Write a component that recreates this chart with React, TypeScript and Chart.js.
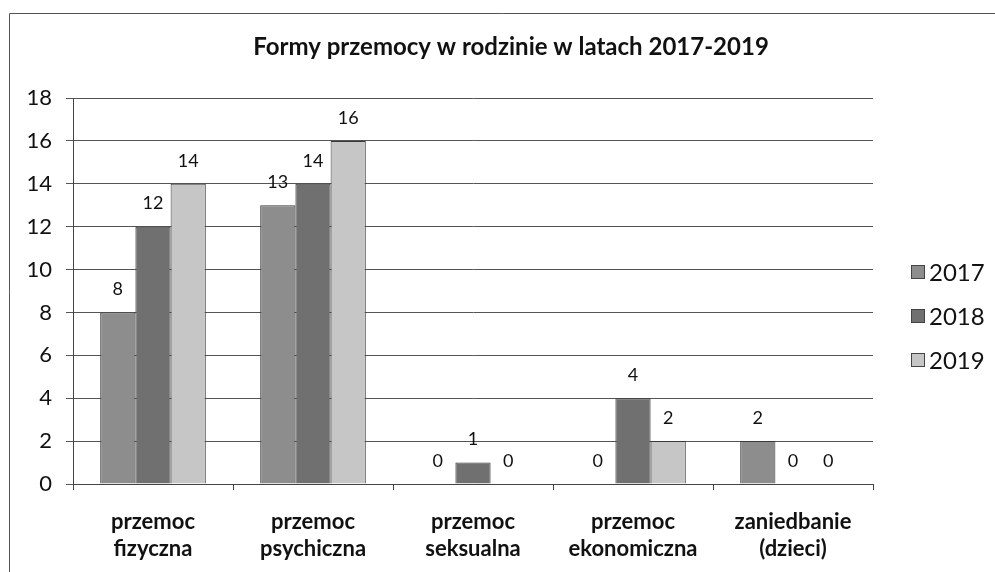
import React, { useEffect, useRef } from "react";
import { Chart, registerables } from "chart.js";

Chart.register(...registerables);

const titleText = "Formy przemocy w rodzinie w latach 2017-2019";
const categories: string[][] = [
  ["przemoc", "fizyczna"],
  ["przemoc", "psychiczna"],
  ["przemoc", "seksualna"],
  ["przemoc", "ekonomiczna"],
  ["zaniedbanie", "(dzieci)"],
];
const seriesNames = ["2017", "2018", "2019"];
const values2017 = [8, 13, 0, 0, 2];
const values2018 = [12, 14, 1, 4, 0];
const values2019 = [14, 16, 0, 2, 0];
const yTicksMin = 0;
const yTicksMax = 18;
const yTicksStep = 2;

const seriesColors = ["#8d8d8d", "#707070", "#c6c6c6"];
const FONT = "Lato, 'Open Sans', sans-serif";

const decorPlugin = {
  id: "decor",
  beforeDraw(chart: any) {
    const ctx = chart.ctx;
    ctx.save();
    ctx.fillStyle = "#ffffff";
    ctx.fillRect(0, 0, chart.width, chart.height);
    // outer frame
    ctx.strokeStyle = "#555555";
    ctx.lineWidth = 1;
    ctx.beginPath();
    ctx.moveTo(9.5, chart.height);
    ctx.lineTo(9.5, 13.5);
    ctx.lineTo(chart.width, 13.5);
    ctx.stroke();
    // title
    ctx.fillStyle = "#111111";
    ctx.font = `bold 24px ${FONT}`;
    ctx.textAlign = "center";
    ctx.textBaseline = "middle";
    ctx.fillText(titleText, 511, 47);
    ctx.restore();
  },
  afterDatasetsDraw(chart: any) {
    const ctx = chart.ctx;
    ctx.save();
    ctx.fillStyle = "#111111";
    ctx.font = `18px ${FONT}`;
    ctx.textAlign = "center";
    ctx.textBaseline = "middle";
    chart.data.datasets.forEach((ds: any, di: number) => {
      const meta = chart.getDatasetMeta(di);
      meta.data.forEach((el: any, i: number) => {
        ctx.fillText(String(ds.data[i]), el.x, el.y - 23);
      });
    });
    // legend
    const area = chart.chartArea;
    const lx = area.right + 38;
    chart.data.datasets.forEach((ds: any, di: number) => {
      const cy = 272 + di * 44;
      ctx.fillStyle = ds.backgroundColor;
      ctx.fillRect(lx, cy - 7, 14, 14);
      ctx.strokeStyle = "#444444";
      ctx.lineWidth = 1;
      ctx.strokeRect(lx + 0.5, cy - 6.5, 13, 13);
      ctx.fillStyle = "#111111";
      ctx.font = `24px ${FONT}`;
      ctx.textAlign = "left";
      ctx.fillText(ds.label, lx + 18, cy + 1);
    });
    ctx.restore();
  },
};

export default function App() {
  const ref = useRef<HTMLCanvasElement | null>(null);
  useEffect(() => {
    if (!ref.current) return;
    const chart = new Chart(ref.current, {
      type: "bar",
      data: {
        labels: categories,
        datasets: [values2017, values2018, values2019].map((vals, i) => ({
          label: seriesNames[i],
          data: vals,
          backgroundColor: seriesColors[i],
          borderColor: "#3a3a3a",
          borderWidth: 1,
          categoryPercentage: 0.66,
          barPercentage: 1,
        })),
      },
      options: {
        responsive: false,
        animation: false,
        devicePixelRatio: 1,
        layout: { padding: { left: 0, right: 122, top: 98, bottom: 0 } },
        plugins: {
          legend: { display: false },
          title: { display: false },
          tooltip: { enabled: false },
        },
        scales: {
          x: {
            afterFit(scale: any) {
              scale.height = 88;
            },
            grid: {
              drawOnChartArea: false,
              drawTicks: true,
              tickLength: 6,
              color: "#444444",
              offset: true,
            },
            border: { display: true, color: "#444444", width: 1 },
            ticks: {
              color: "#111111",
              padding: 18,
              maxRotation: 0,
              font: { family: FONT, size: 22, weight: "bold", lineHeight: 1.23 },
            },
          },
          y: {
            min: yTicksMin,
            max: yTicksMax,
            afterFit(scale: any) {
              scale.width = 73;
            },
            ticks: {
              stepSize: yTicksStep,
              color: "#111111",
              padding: 14,
              font: { family: FONT, size: 22 },
            },
            grid: {
              color: "#555555",
              lineWidth: 1,
              tickLength: 7,
            },
            border: { display: true, color: "#444444", width: 1 },
          },
        },
      },
      plugins: [decorPlugin],
    } as any);
    return () => chart.destroy();
  }, []);
  return (
    <canvas
      ref={ref}
      width={995}
      height={572}
      style={{ position: "absolute", left: 0, top: 0, width: 995, height: 572 }}
    />
  );
}
